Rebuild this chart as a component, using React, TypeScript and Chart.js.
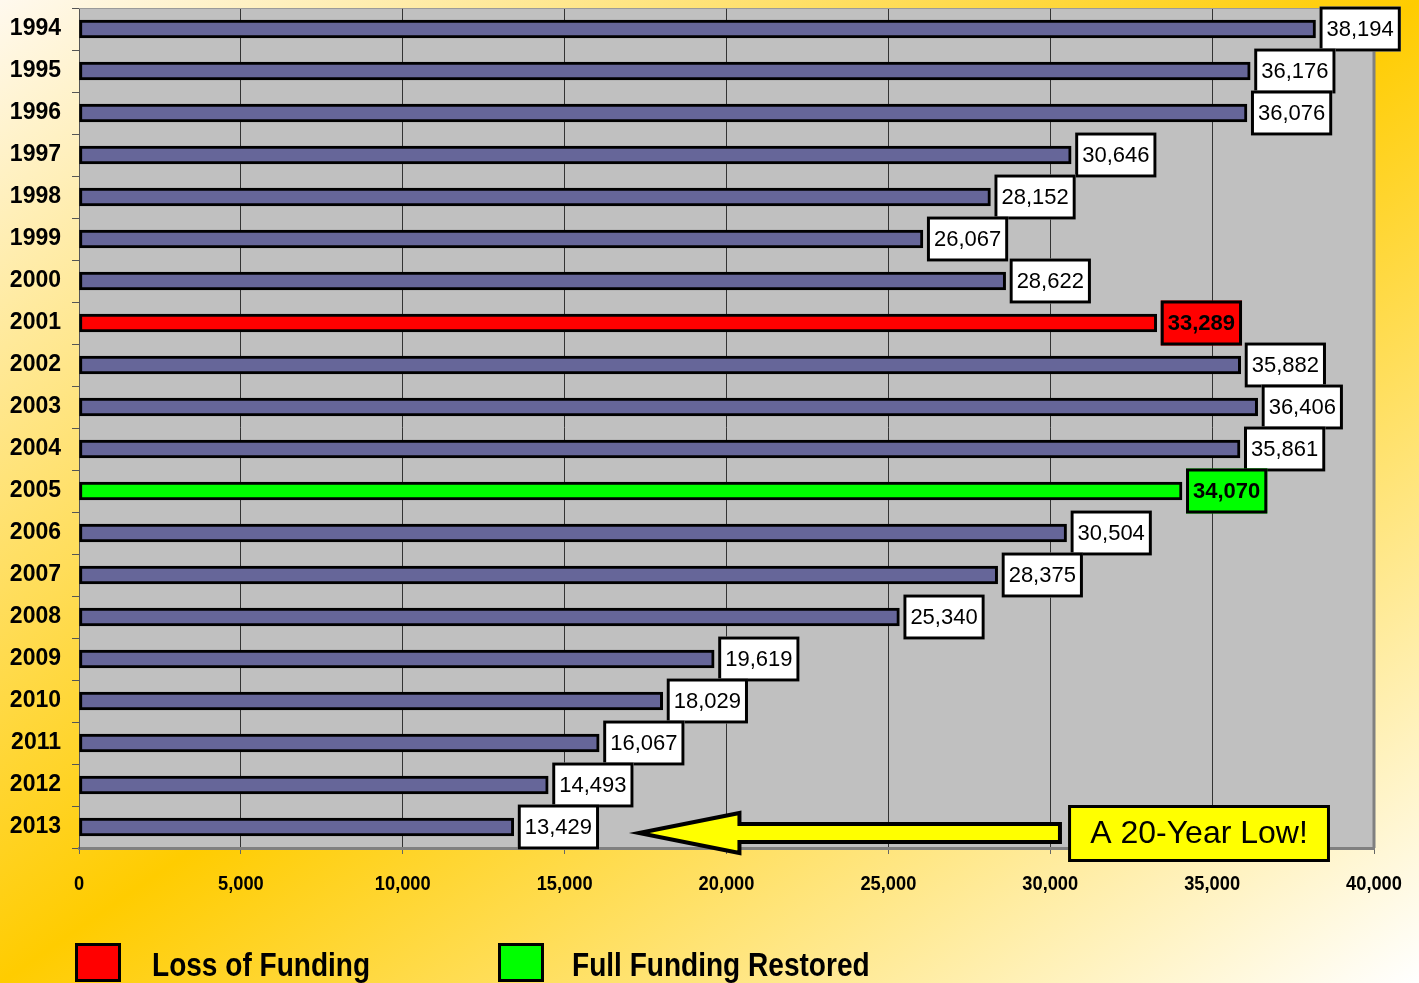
import React, { useEffect, useRef } from "react";
import { Chart, registerables } from "chart.js";

Chart.register(...registerables);

// ---------- data ----------
const years = [
  "1994", "1995", "1996", "1997", "1998", "1999", "2000", "2001", "2002", "2003",
  "2004", "2005", "2006", "2007", "2008", "2009", "2010", "2011", "2012", "2013",
];
const values = [
  38194, 36176, 36076, 30646, 28152, 26067, 28622, 33289, 35882, 36406,
  35861, 34070, 30504, 28375, 25340, 19619, 18029, 16067, 14493, 13429,
];
const lossYear = "2001";
const restoredYear = "2005";
const xMin = 0;
const xMax = 40000;
const xStep = 5000;
const legendLabels = ["Loss of Funding", "Full Funding Restored"];
const calloutText = "A 20-Year Low!";
// annotation arrow in data units (x values)
const arrowTipValue = 17300;
const arrowHeadValue = 20400;
const arrowTailValue = 30300;
const calloutStartValue = 30550;
const calloutEndValue = 38640;

// ---------- styles ----------
const BAR = "#666699";
const RED = "#FF0000";
const GREEN = "#00FF00";
const SANS = "'Liberation Sans', Arial, sans-serif";

const fmt = (v: number) => String(Math.round(v)).replace(/\B(?=(\d{3})+(?!\d))/g, ",");

const barColors = years.map((y) => (y === lossYear ? RED : y === restoredYear ? GREEN : BAR));

// draw condensed text (narrow font look) by scaling horizontally
function narrowText(ctx: any, txt: string, x: number, y: number, font: string, sx: number, align: string) {
  ctx.save();
  ctx.translate(x, y);
  ctx.scale(sx, 1);
  ctx.font = font;
  ctx.textAlign = align;
  ctx.textBaseline = "middle";
  ctx.fillStyle = "#000";
  ctx.fillText(txt, 0, 0);
  ctx.restore();
}

const plotPlugin = {
  id: "plotDecor",
  beforeDraw(chart: any) {
    const { ctx, chartArea: a } = chart;
    ctx.save();
    ctx.fillStyle = "#C0C0C0";
    ctx.fillRect(a.left, a.top, a.right - a.left, a.bottom - a.top);
    ctx.restore();
  },
  beforeDatasetsDraw(chart: any) {
    const { ctx, chartArea: a } = chart;
    ctx.save();
    ctx.strokeStyle = "#808080";
    ctx.lineWidth = 3;
    ctx.beginPath();
    ctx.moveTo(a.right, a.top);
    ctx.lineTo(a.right, a.bottom);
    ctx.stroke();
    ctx.lineWidth = 1;
    ctx.strokeStyle = "#9a9a9a";
    ctx.beginPath();
    ctx.moveTo(a.left, a.top + 0.5);
    ctx.lineTo(a.right, a.top + 0.5);
    ctx.stroke();
    ctx.restore();
  },
  afterDatasetsDraw(chart: any) {
    const { ctx } = chart;
    const meta = chart.getDatasetMeta(0);
    ctx.save();
    meta.data.forEach((bar: any, i: number) => {
      const { x, y } = bar.getProps(["x", "y"], true);
      const special = years[i] === lossYear || years[i] === restoredYear;
      const txt = fmt(values[i]);
      ctx.font = `${special ? "bold " : ""}22px ${SANS}`;
      const tw = ctx.measureText(txt).width;
      const w = tw + 14;
      const h = 45;
      const left = x + 4;
      const top = y - h / 2;
      ctx.fillStyle = special ? barColors[i] : "#FFFFFF";
      ctx.fillRect(left, top, w, h);
      ctx.lineWidth = 3;
      ctx.strokeStyle = "#000";
      ctx.strokeRect(left + 1.5, top + 1.5, w - 3, h - 3);
      ctx.fillStyle = "#000";
      ctx.textAlign = "center";
      ctx.textBaseline = "middle";
      ctx.fillText(txt, left + w / 2, y + 1);
    });
    ctx.restore();
  },
  afterDraw(chart: any) {
    const { ctx, scales, chartArea } = chart;
    const xs = scales.x;
    const ys = scales.y;
    // x tick labels (condensed bold)
    xs.ticks.forEach((t: any) => {
      const px = xs.getPixelForValue(t.value);
      narrowText(ctx, fmt(t.value), px, chartArea.bottom + 36, `bold 21px ${SANS}`, 0.87, "center");
    });
    const yc = ys.getPixelForValue(years.length - 1) + 6;
    const tip = xs.getPixelForValue(arrowTipValue);
    const head = xs.getPixelForValue(arrowHeadValue);
    const tail = xs.getPixelForValue(arrowTailValue);
    ctx.save();
    // arrow
    ctx.beginPath();
    ctx.moveTo(tip, yc);
    ctx.lineTo(head, yc - 20);
    ctx.lineTo(head, yc - 9);
    ctx.lineTo(tail, yc - 9);
    ctx.lineTo(tail, yc + 9);
    ctx.lineTo(head, yc + 9);
    ctx.lineTo(head, yc + 20);
    ctx.closePath();
    ctx.fillStyle = "#FFFF00";
    ctx.fill();
    ctx.lineWidth = 4;
    ctx.lineJoin = "miter";
    ctx.strokeStyle = "#000";
    ctx.stroke();
    // callout box
    const bl = xs.getPixelForValue(calloutStartValue);
    const br = xs.getPixelForValue(calloutEndValue);
    const bt = yc - 28;
    const bh = 57;
    ctx.fillStyle = "#FFFF00";
    ctx.fillRect(bl, bt, br - bl, bh);
    ctx.lineWidth = 3;
    ctx.strokeRect(bl + 1.5, bt + 1.5, br - bl - 3, bh - 3);
    ctx.fillStyle = "#000";
    ctx.font = `32px ${SANS}`;
    ctx.textAlign = "center";
    ctx.textBaseline = "middle";
    ctx.fillText(calloutText, (bl + br) / 2, bt + bh / 2 + 1);
    // legend
    const items = [
      { color: RED, label: legendLabels[0], bx: 75, tx: 152 },
      { color: GREEN, label: legendLabels[1], bx: 498, tx: 572 },
    ];
    items.forEach((it) => {
      ctx.fillStyle = it.color;
      ctx.fillRect(it.bx, 943, 46, 39);
      ctx.lineWidth = 3;
      ctx.strokeStyle = "#000";
      ctx.strokeRect(it.bx + 1.5, 944.5, 43, 36);
      narrowText(ctx, it.label, it.tx, 967, `bold 33px ${SANS}`, 0.85, "left");
    });
    ctx.restore();
  },
};

export default function App() {
  const ref = useRef<HTMLCanvasElement | null>(null);
  useEffect(() => {
    if (!ref.current) return;
    const chart = new Chart(ref.current, {
      type: "bar",
      data: {
        labels: years,
        datasets: [
          {
            data: values,
            backgroundColor: barColors,
            borderColor: "#000000",
            borderWidth: 3,
            borderSkipped: false,
            barThickness: 18,
          },
        ],
      },
      options: {
        responsive: false,
        animation: false,
        indexAxis: "y",
        layout: { padding: { left: 0, right: 45, top: 8, bottom: 0 } },
        plugins: { legend: { display: false }, tooltip: { enabled: false } },
        scales: {
          x: {
            min: xMin,
            max: xMax,
            ticks: {
              stepSize: xStep,
              display: false,
            },
            grid: { color: "#333333", lineWidth: 1, drawTicks: true, tickLength: 6, tickColor: "#666666" },
            border: { color: "#808080", width: 3 },
            afterFit(s: any) {
              s.height = 135;
              s.paddingLeft = 0;
              s.paddingRight = 0;
            },
          },
          y: {
            ticks: {
              font: { family: SANS, size: 23, weight: "bold" },
              color: "#000",
              padding: 11,
            },
            grid: { drawOnChartArea: false, offset: true, tickLength: 7, color: "#555555" },
            border: { color: "#555555", width: 1 },
            afterFit(s: any) {
              s.width = 79;
              s.paddingTop = 0;
              s.paddingBottom = 0;
            },
          },
        },
      },
      plugins: [plotPlugin],
    } as any);
    return () => chart.destroy();
  }, []);

  return (
    <div
      style={{
        position: "fixed",
        left: 0,
        top: 0,
        width: 1419,
        height: 983,
        background: "linear-gradient(to bottom right, #FFF9EE 0%, #FFCC00 50%, #FFFFFF 100%)",
      }}
    >
      <canvas ref={ref} width={1419} height={983} style={{ display: "block" }} />
    </div>
  );
}
